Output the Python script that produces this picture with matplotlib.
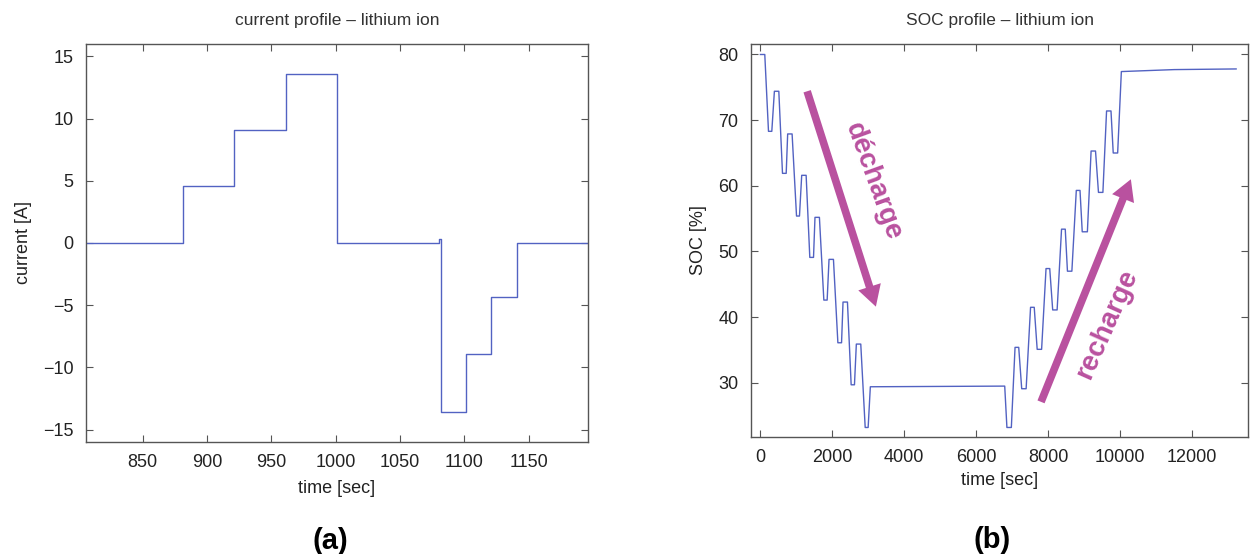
import matplotlib
matplotlib.use('Agg')
import matplotlib.pyplot as plt
from matplotlib.patches import FancyArrowPatch

plt.rcParams['font.family'] = ['Liberation Sans', 'DejaVu Sans']

# (a) current profile - step breakpoints [s] and current levels [A]
step_t = [806, 881, 921, 961, 1001, 1080.5, 1081.5, 1101, 1121, 1141, 1196]
step_i = [0, 4.55, 9.1, 13.6, 0, 0.3, -13.55, -8.95, -4.35, 0, 0]

# (b) SOC profile - vertices of the trace
soc_t = [0, 123, 226, 318, 390, 513, 615, 718, 759, 882, 1005, 1087, 1149, 1272,
         1374, 1477, 1518, 1641, 1764, 1856, 1908, 2031, 2154, 2256, 2297, 2420,
         2523, 2615, 2667, 2790, 2913, 2995, 3056, 6790, 6851, 6974, 7077, 7179,
         7262, 7385, 7508, 7610, 7692, 7815, 7938, 8041, 8123, 8246, 8369, 8472,
         8533, 8656, 8779, 8882, 8944, 9087, 9190, 9313, 9395, 9518, 9620, 9743,
         9805, 9928, 10031, 11500, 13220]
soc = [80, 80, 68.3, 68.3, 74.4, 74.4, 61.9, 61.9, 67.9, 67.9, 55.4, 55.4, 61.6, 61.6,
       49.1, 49.1, 55.2, 55.2, 42.6, 42.6, 48.8, 48.8, 36.1, 36.1, 42.3, 42.3,
       29.7, 29.7, 35.9, 35.9, 23.2, 23.2, 29.4, 29.5, 23.2, 23.2, 35.4, 35.4,
       29.1, 29.1, 41.5, 41.5, 35.1, 35.1, 47.4, 47.4, 41.1, 41.1, 53.4, 53.4,
       47.0, 47.0, 59.3, 59.3, 53.0, 53.0, 65.3, 65.3, 59.0, 59.0, 71.4, 71.4,
       65.0, 65.0, 77.4, 77.7, 77.8]

# annotation arrows (data coords of tail and tip)
dech_arrow = [(1300, 74.4), (3210, 41.6)]
rech_arrow = [(7799, 27.1), (10295, 61.0)]

line_col = '#5262c2'
mag = '#b9519f'

fig = plt.figure(figsize=(12.5, 5.54), dpi=100)
ax1 = fig.add_axes([0.0688, 0.2022, 0.4016, 0.7184])
ax2 = fig.add_axes([0.6008, 0.2112, 0.3976, 0.7094])


def style(ax):
    ax.tick_params(direction='in', top=True, right=True, length=5, width=0.8,
                   color='#555555', labelcolor='#222222', labelsize=13, pad=9)
    for s in ax.spines.values():
        s.set_color('#555555')
        s.set_linewidth(1.0)


# (a)
ax1.step(step_t, step_i, where='post', color=line_col, lw=1)
ax1.set_xlim(806, 1196)
ax1.set_ylim(-16, 16)
ax1.set_xticks(range(850, 1151, 50))
ax1.set_yticks(range(-15, 16, 5))
ax1.set_title('current profile \u2013 lithium ion', fontsize=12.5, color='#333333', pad=14)
ax1.set_xlabel('time [sec]', fontsize=13, color='#222222', labelpad=6)
ax1.set_ylabel('current [A]', fontsize=13, color='#222222', labelpad=8)
style(ax1)

# (b)
ax2.plot(soc_t, soc, color=line_col, lw=1)
ax2.set_xlim(-260, 13550)
ax2.set_ylim(21.75, 81.6)
ax2.set_xticks(range(0, 12001, 2000))
ax2.set_yticks(range(30, 81, 10))
ax2.set_title('SOC profile \u2013 lithium ion', fontsize=12.5, color='#333333', pad=14)
ax2.set_xlabel('time [sec]', fontsize=13, color='#222222', labelpad=4)
ax2.set_ylabel('SOC [%]', fontsize=13, color='#222222', labelpad=8)
style(ax2)

for tail, tip in (dech_arrow, rech_arrow):
    arr = FancyArrowPatch(tail, tip, arrowstyle='simple,head_width=17,head_length=15,tail_width=5.5',
                          mutation_scale=1, color=mag, lw=0, shrinkA=0, shrinkB=0)
    ax2.add_patch(arr)

ax2.text(3130, 60.7, 'décharge', color=mag, fontsize=20, fontweight='bold',
         rotation=-70, ha='center', va='center', rotation_mode='anchor')
ax2.text(9643, 38.9, 'recharge', color=mag, fontsize=20, fontweight='bold',
         rotation=66, ha='center', va='center', rotation_mode='anchor')

fig.text(0.264, 0.023, '(a)', fontsize=21, fontweight='bold', ha='center', va='center')
fig.text(0.794, 0.025, '(b)', fontsize=21, fontweight='bold', ha='center', va='center')

fig.savefig('out.png', dpi=100, facecolor='white')
